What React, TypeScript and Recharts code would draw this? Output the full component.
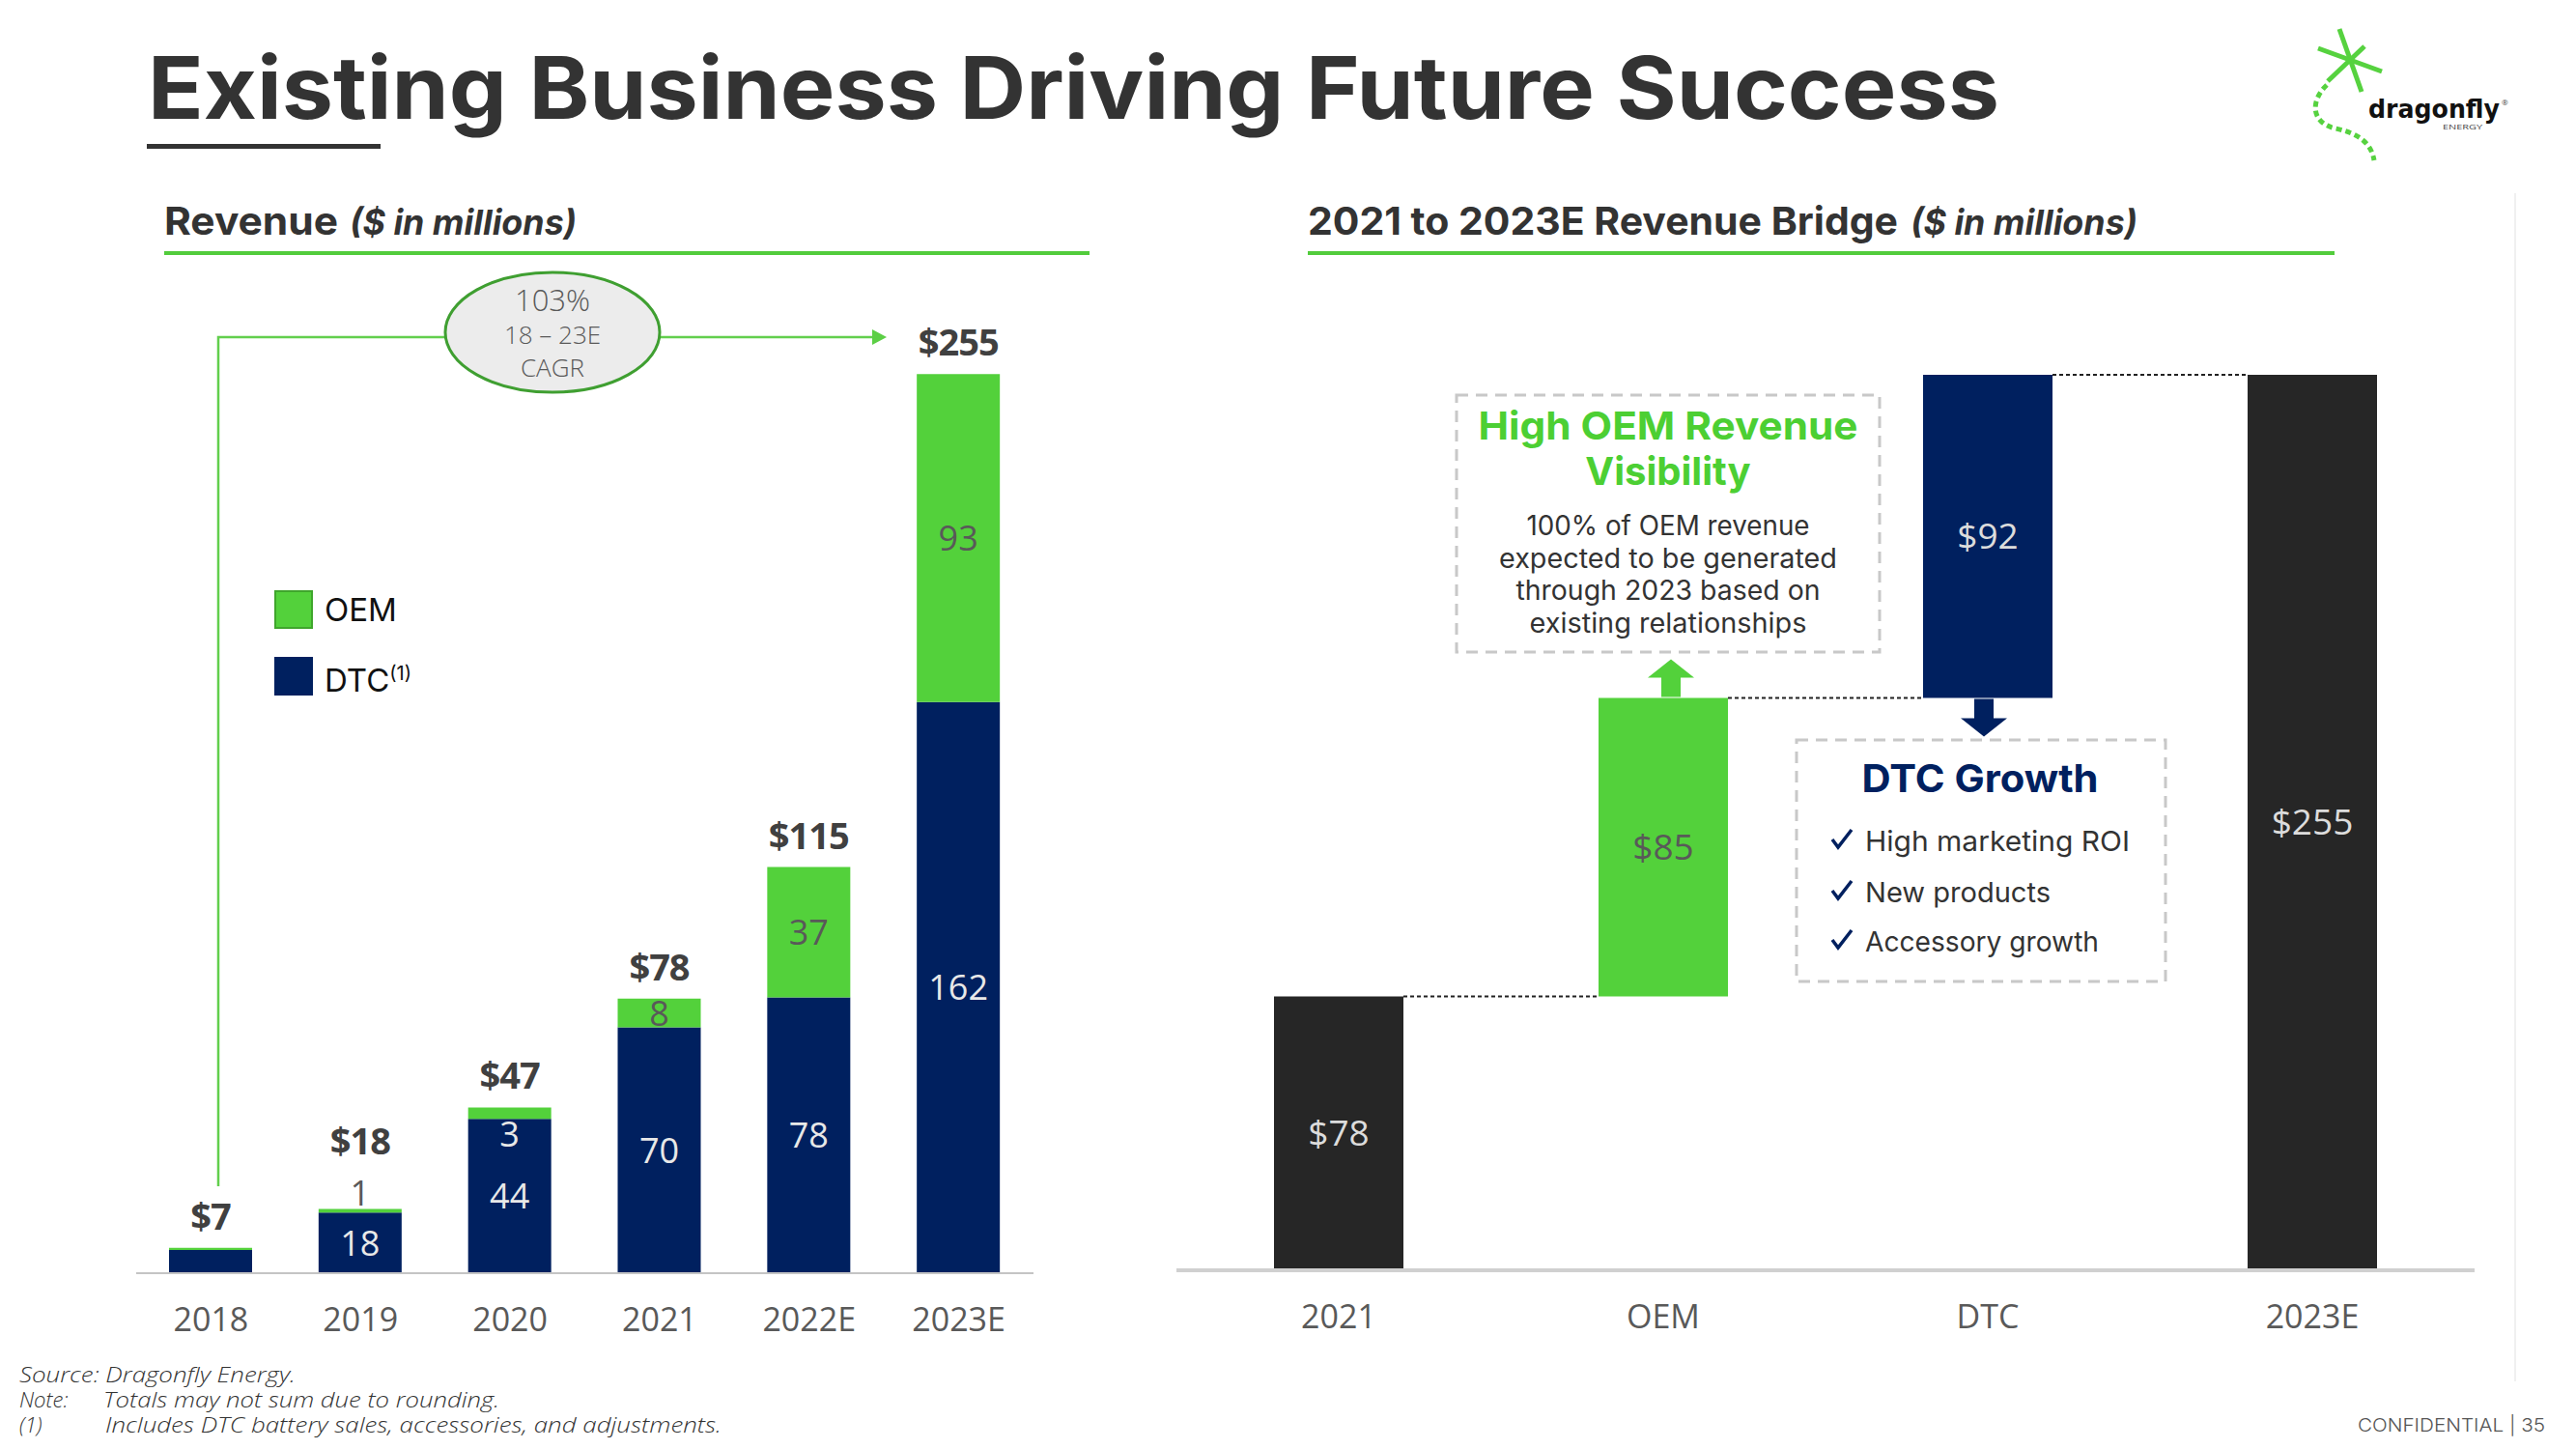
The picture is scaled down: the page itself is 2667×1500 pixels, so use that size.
import React from 'react';
import { BarChart, Bar, XAxis, YAxis, LabelList, Cell, Legend } from 'recharts';

// ---------- data ----------
const years = ['2018', '2019', '2020', '2021', '2022E', '2023E'];
const dtcValues = [6.6, 17.2, 43.8, 69.7, 78.2, 162];
const oemValues = [0.6, 1.0, 3.2, 8.2, 37, 93];
const dtcLabels = ['', '18', '44', '70', '78', '162'];
const oemLabels = ['', '1', '3', '8', '37', '93'];
const totalLabels = ['$7', '$18', '$47', '$78', '$115', '$255'];
const seriesNames = ['OEM', 'DTC'];

const bridgeCategories = ['2021', 'OEM', 'DTC', '2023E'];
const bridgeValues = [78, 85, 92, 255];
const bridgeLabels = ['$78', '$85', '$92', '$255'];
const bridgeKinds = ['total', 'increase', 'increase', 'total'];

// ---------- style ----------
const GREEN = '#53d13b';
const NAVY = '#00205f';
const DARK = '#262626';
const FONT = 'Inter, "Open Sans", sans-serif';
const NUMFONT = '"Open Sans", sans-serif';
const Y_MAX = 280;
const AXIS_H = 80;

// left chart geometry
const L_LEFT = 141, L_WIDTH = 929, L_PLOT_TOP = 296, L_PLOT_H = 1022;
// right chart geometry
const R_LEFT = 1218, R_WIDTH = 1344, R_PLOT_TOP = 297, R_PLOT_H = 1018;
const R_BAND = R_WIDTH / bridgeCategories.length;

const revenueData = years.map((y, i) => ({ year: y, dtc: dtcValues[i], oem: oemValues[i] }));

const bridgeData = (() => {
  let run = 0;
  return bridgeCategories.map((c, i) => {
    const isTotal = bridgeKinds[i] === 'total';
    const base = isTotal ? 0 : run;
    run = isTotal ? bridgeValues[i] : run + bridgeValues[i];
    return { cat: c, base, value: bridgeValues[i] };
  });
})();

const bridgeColor = (c: string) => (c === 'OEM' ? GREEN : c === 'DTC' ? NAVY : DARK);

function geom(props: any) {
  const vb = props.viewBox || {};
  const x = props.x ?? vb.x;
  const y = props.y ?? vb.y;
  const w = props.width ?? vb.width;
  const h = props.height ?? vb.height;
  return { x: Number(x), y: Number(y), w: Number(w), h: Number(h) };
}

function DtcLabel(props: any) {
  const { x, y, w, h } = geom(props);
  const i = props.index;
  const lbl = dtcLabels[i];
  if (!lbl) return null;
  return (
    <text x={x + w / 2} y={y + h / 2 + 13} textAnchor="middle" fontFamily={NUMFONT} fontSize={36} fill="#e8e8e8">
      {lbl}
    </text>
  );
}

function OemLabel(props: any) {
  const { x, y, w, h } = geom(props);
  const i = props.index;
  const cx = x + w / 2;
  const lbl = oemLabels[i];
  const els: any[] = [];
  let totalCenter = y - 33;
  if (lbl) {
    if (h >= 25) {
      els.push(<text key="o" x={cx} y={y + h / 2 + 13} textAnchor="middle" fontFamily={NUMFONT} fontSize={36} fill="#595959">{lbl}</text>);
    } else if (dtcValues[i] >= 30) {
      els.push(<text key="o" x={cx} y={y + h + 16 + 13} textAnchor="middle" fontFamily={NUMFONT} fontSize={36} fill="#e8e8e8">{lbl}</text>);
    } else {
      els.push(<text key="o" x={cx} y={y - 17 + 13} textAnchor="middle" fontFamily={NUMFONT} fontSize={36} fill="#595959">{lbl}</text>);
      totalCenter = y - 71;
    }
  }
  els.push(
    <text key="t" x={cx} y={totalCenter + 14} textAnchor="middle" fontFamily={NUMFONT} fontWeight={700} fontSize={38} fill="#404040" letterSpacing={-1}>
      {totalLabels[i]}
    </text>
  );
  return <g>{els}</g>;
}

function BridgeLabel(props: any) {
  const { x, y, w, h } = geom(props);
  const i = props.index;
  const cat = bridgeCategories[i];
  const cx = x + w / 2;
  const fill = cat === 'OEM' ? '#595959' : '#dcdcdc';
  const els: any[] = [];
  els.push(
    <text key="v" x={cx} y={y + h / 2 + 13} textAnchor="middle" fontFamily={NUMFONT} fontSize={37} fill={fill}>
      {bridgeLabels[i]}
    </text>
  );
  if (i < bridgeCategories.length - 1) {
    els.push(<line key="c" x1={x + w} y1={y} x2={x + R_BAND} y2={y} stroke="#222" strokeWidth={2} strokeDasharray="4 3" />);
  }
  if (bridgeKinds[i] === 'increase') {
    if (cat === 'OEM') {
      const b = y - 1;
      els.push(
        <path key="a" d={`M${cx - 10} ${b} L${cx - 10} ${b - 20} L${cx - 24} ${b - 20} L${cx} ${b - 39} L${cx + 24} ${b - 20} L${cx + 10} ${b - 20} L${cx + 10} ${b} Z`} fill={GREEN} transform="translate(8,0)" />
      );
    } else {
      const t = y + h + 1;
      els.push(
        <path key="a" d={`M${cx - 10} ${t} L${cx - 10} ${t + 20} L${cx - 24} ${t + 20} L${cx} ${t + 39} L${cx + 24} ${t + 20} L${cx + 10} ${t + 20} L${cx + 10} ${t} Z`} fill={NAVY} transform="translate(-4,0)" />
      );
    }
  }
  return <g>{els}</g>;
}

function LegendContent() {
  const colors = [GREEN, NAVY];
  const borders = ['#3fa62c', NAVY];
  return (
    <div style={{ fontFamily: FONT }}>
      {seriesNames.map((n, k) => (
        <div key={n} style={{ display: 'flex', alignItems: 'center', height: 40, marginBottom: k === 0 ? 29 : 0 }}>
          <div style={{ width: 36, height: 36, background: colors[k], border: `2px solid ${borders[k]}` }} />
          <span style={{ marginLeft: 12, fontSize: 33, color: '#111', lineHeight: '40px' }}>
            {n}
            {n === 'DTC' ? <sup style={{ fontSize: 20 }}>(1)</sup> : null}
          </span>
        </div>
      ))}
    </div>
  );
}

function Overlay() {
  const cagrY = 349;
  return (
    <svg width={2667} height={1500} style={{ position: 'absolute', left: 0, top: 0, pointerEvents: 'none' }}>
      {/* Title */}
      <text x={153} y={123} fontFamily={FONT} fontWeight={700} fontSize={90} fill="#333333" textLength={1917} lengthAdjust="spacingAndGlyphs">
        Existing Business Driving Future Success
      </text>
      <rect x={152} y={149} width={242} height={5} fill="#333333" />

      {/* Logo */}
      <g stroke="#56d23f" strokeWidth={5} strokeLinecap="butt">
        <line x1={2422} y1={30} x2={2445} y2={95} />
        <line x1={2400} y1={50} x2={2466} y2={74} />
        <line x1={2410} y1={84} x2={2448} y2={48} />
      </g>
      <path d="M2409 88 C2392 104 2392 127 2418 133 C2442 138 2455 148 2458 166" fill="none" stroke="#56d23f" strokeWidth={5} strokeDasharray="6 4" />
      <text x={2452} y={122} fontFamily='"DejaVu Sans", sans-serif' fontWeight={700} fontSize={26} fill="#111" textLength={136} lengthAdjust="spacingAndGlyphs">dragonfly</text>
      <text x={2529} y={134} fontFamily={NUMFONT} fontSize={8} fill="#444" textLength={41} lengthAdjust="spacingAndGlyphs">ENERGY</text>
      <text x={2590} y={109} fontFamily={NUMFONT} fontSize={8} fill="#444">®</text>

      {/* Section headers */}
      <text x={170} y={243} fontFamily={FONT} fontWeight={700} fontSize={40} fill="#333" textLength={180} lengthAdjust="spacingAndGlyphs">Revenue</text>
      <text x={362} y={243} fontFamily={FONT} fontWeight={700} fontStyle="italic" fontSize={36} fill="#333" textLength={235} lengthAdjust="spacingAndGlyphs">($ in millions)</text>
      <rect x={170} y={260} width={958} height={4} fill="#52cc3c" />
      <text x={1354} y={243} fontFamily={FONT} fontWeight={700} fontSize={40} fill="#333" textLength={611} lengthAdjust="spacingAndGlyphs">2021 to 2023E Revenue Bridge</text>
      <text x={1978} y={243} fontFamily={FONT} fontWeight={700} fontStyle="italic" fontSize={36} fill="#333" textLength={235} lengthAdjust="spacingAndGlyphs">($ in millions)</text>
      <rect x={1354} y={260} width={1063} height={4} fill="#52cc3c" />

      {/* CAGR annotation */}
      <g stroke="#62cf4d" strokeWidth={2.5} fill="none">
        <polyline points={`226,1228 226,${cagrY} 461,${cagrY}`} />
        <line x1={683} y1={cagrY} x2={904} y2={cagrY} />
      </g>
      <path d={`M903 ${cagrY - 8} L918 ${cagrY} L903 ${cagrY + 8} Z`} fill="#5ccf45" />
      <ellipse cx={572} cy={344} rx={111} ry={62} fill="#ececec" stroke="#3f9f31" strokeWidth={3} />
      <text x={572} y={322} textAnchor="middle" fontFamily={NUMFONT} fontWeight={300} fontSize={31} fill="#595959">103%</text>
      <text x={572} y={356} textAnchor="middle" fontFamily={NUMFONT} fontWeight={300} fontSize={26} fill="#595959">18 – 23E</text>
      <text x={572} y={390} textAnchor="middle" fontFamily={NUMFONT} fontWeight={300} fontSize={26} fill="#595959">CAGR</text>

      {/* Box 1 */}
      <rect x={1508} y={409} width={438} height={266} fill="none" stroke="#c8c8c8" strokeWidth={3} strokeDasharray="12 8" />
      <text x={1727} y={455} textAnchor="middle" fontFamily={FONT} fontWeight={700} fontSize={40} fill="#4ccf33" textLength={393} lengthAdjust="spacingAndGlyphs">High OEM Revenue</text>
      <text x={1727} y={502} textAnchor="middle" fontFamily={FONT} fontWeight={700} fontSize={40} fill="#4ccf33">Visibility</text>
      <text x={1727} y={554} textAnchor="middle" fontFamily={FONT} fontSize={28} fill="#333" textLength={293} lengthAdjust="spacingAndGlyphs">100% of OEM revenue</text>
      <text x={1727} y={588} textAnchor="middle" fontFamily={FONT} fontSize={28} fill="#333" textLength={350} lengthAdjust="spacingAndGlyphs">expected to be generated</text>
      <text x={1727} y={621} textAnchor="middle" fontFamily={FONT} fontSize={28} fill="#333" textLength={315} lengthAdjust="spacingAndGlyphs">through 2023 based on</text>
      <text x={1727} y={655} textAnchor="middle" fontFamily={FONT} fontSize={28} fill="#333" textLength={287} lengthAdjust="spacingAndGlyphs">existing relationships</text>

      {/* Box 2 */}
      <rect x={1860} y={766} width={382} height={250} fill="none" stroke="#c8c8c8" strokeWidth={3} strokeDasharray="12 8" />
      <text x={2050} y={820} textAnchor="middle" fontFamily={FONT} fontWeight={700} fontSize={40} fill={NAVY} textLength={245} lengthAdjust="spacingAndGlyphs">DTC Growth</text>
      {[
        ['High marketing ROI', 871, 274],
        ['New products', 924, 192],
        ['Accessory growth', 975, 242],
      ].map(([t, cy, tl]: any) => (
        <g key={t}>
          <path d={`M1897 ${cy - 2} L1903 ${cy + 6} L1917 ${cy - 12}`} fill="none" stroke={NAVY} strokeWidth={3.5} />
          <text x={1931} y={cy + 10} fontFamily={FONT} fontSize={29} fill="#333" textLength={tl} lengthAdjust="spacingAndGlyphs">{t}</text>
        </g>
      ))}

      {/* faint right border */}
      <line x1={2604} y1={200} x2={2604} y2={1430} stroke="#f0f0f0" strokeWidth={2} />

      {/* Footer */}
      <text x={20} y={1431} fontFamily={NUMFONT} fontStyle="italic" fontWeight={300} fontSize={22} fill="#333" textLength={286} lengthAdjust="spacingAndGlyphs">Source: Dragonfly Energy.</text>
      <text x={20} y={1457} fontFamily={NUMFONT} fontStyle="italic" fontWeight={300} fontSize={22} fill="#333">Note:</text>
      <text x={107} y={1457} fontFamily={NUMFONT} fontStyle="italic" fontWeight={300} fontSize={22} fill="#333" textLength={410} lengthAdjust="spacingAndGlyphs">Totals may not sum due to rounding.</text>
      <text x={20} y={1483} fontFamily={NUMFONT} fontStyle="italic" fontWeight={300} fontSize={22} fill="#333">(1)</text>
      <text x={109} y={1483} fontFamily={NUMFONT} fontStyle="italic" fontWeight={300} fontSize={22} fill="#333" textLength={638} lengthAdjust="spacingAndGlyphs">Includes DTC battery sales, accessories, and adjustments.</text>
      <text x={2635} y={1482} textAnchor="end" fontFamily={FONT} fontWeight={300} fontSize={19} fill="#555" textLength={194} lengthAdjust="spacingAndGlyphs">CONFIDENTIAL | 35</text>
    </svg>
  );
}

export default function App() {
  return (
    <div style={{ position: 'absolute', left: 0, top: 0, width: 2667, height: 1500, background: '#fff', overflow: 'hidden' }}>
      <div style={{ position: 'absolute', left: L_LEFT, top: L_PLOT_TOP }}>
        <BarChart width={L_WIDTH} height={L_PLOT_H + AXIS_H} data={revenueData} margin={{ top: 0, right: 0, bottom: 0, left: 0 }}>
          <XAxis
            dataKey="year"
            height={AXIS_H}
            interval={0}
            tickLine={false}
            tickSize={0}
            tickMargin={36}
            axisLine={{ stroke: '#c4c4c4', strokeWidth: 2 }}
            tick={{ fill: '#595959', fontSize: 34, fontFamily: NUMFONT }}
          />
          <YAxis hide domain={[0, Y_MAX]} allowDataOverflow />
          <Legend
            layout="vertical"
            align="center"
            verticalAlign="middle"
            content={() => <LegendContent />}
            wrapperStyle={{ left: 143, top: 315, width: 220 }}
          />
          <Bar dataKey="dtc" name="DTC" stackId="rev" fill={NAVY} barSize={86} isAnimationActive={false}>
            <LabelList content={(p: any) => <DtcLabel {...p} />} />
          </Bar>
          <Bar dataKey="oem" name="OEM" stackId="rev" fill={GREEN} barSize={86} isAnimationActive={false}>
            <LabelList content={(p: any) => <OemLabel {...p} />} />
          </Bar>
        </BarChart>
      </div>

      <div style={{ position: 'absolute', left: R_LEFT, top: R_PLOT_TOP }}>
        <BarChart width={R_WIDTH} height={R_PLOT_H + AXIS_H} data={bridgeData} margin={{ top: 0, right: 0, bottom: 0, left: 0 }}>
          <XAxis
            dataKey="cat"
            height={AXIS_H}
            interval={0}
            tickLine={false}
            tickSize={0}
            tickMargin={36}
            axisLine={{ stroke: '#d0d0d0', strokeWidth: 4 }}
            tick={{ fill: '#595959', fontSize: 34, fontFamily: NUMFONT }}
          />
          <YAxis hide domain={[0, Y_MAX]} allowDataOverflow />
          <Bar dataKey="base" stackId="w" fill="transparent" barSize={134} isAnimationActive={false} />
          <Bar dataKey="value" stackId="w" barSize={134} isAnimationActive={false}>
            {bridgeData.map((d) => (
              <Cell key={d.cat} fill={bridgeColor(d.cat)} />
            ))}
            <LabelList content={(p: any) => <BridgeLabel {...p} />} />
          </Bar>
        </BarChart>
      </div>

      <Overlay />
    </div>
  );
}
